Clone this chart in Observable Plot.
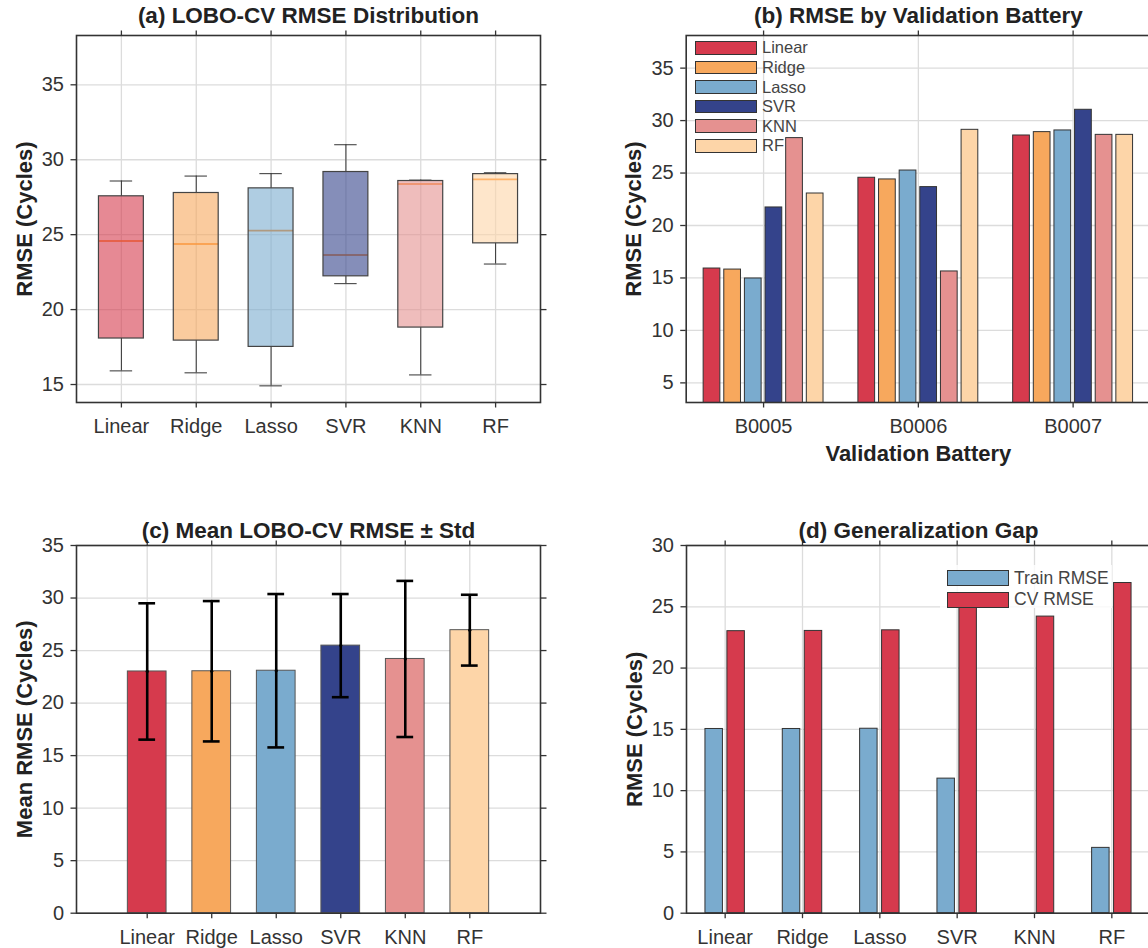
<!DOCTYPE html>
<html>
<head>
<meta charset="utf-8">
<script src="https://cdn.jsdelivr.net/npm/d3@7"></script>
<script src="https://cdn.jsdelivr.net/npm/@observablehq/plot@0.6"></script>
<style>
  html, body { margin: 0; padding: 0; background: #fff; }
  #fig { position: relative; width: 1148px; height: 948px; overflow: hidden; background: #fff;
         font-family: "Liberation Sans", Arial, Helvetica, sans-serif; }
  #fig svg { position: absolute; }
  .legend { position: absolute; }
  .legend .row { position: absolute; left: 0; display: flex; align-items: center; white-space: nowrap; }
  .legend .sw { box-sizing: border-box; border: 1.2px solid #333; }
  .legend .lab { color: #444; margin-left: 5px; }
</style>
</head>
<body>
<div id="fig"></div>
<script>
// ---- models and colours ----
const models = ["Linear", "Ridge", "Lasso", "SVR", "KNN", "RF"];
const modelColors = ["#d63a4d", "#f7a85d", "#7aabce", "#34438b", "#e59190", "#fdd5a8"];

// ---- (a) box summaries of LOBO-CV RMSE per model ----
const boxLow  = [15.91, 15.78, 14.91, 21.73, 15.64, 23.04];
const boxQ1   = [18.07, 17.93, 17.51, 22.22, 18.80, 24.42];
const boxMed  = [24.58, 24.38, 25.27, 23.64, 28.38, 28.69];
const boxQ3   = [27.56, 27.78, 28.09, 29.18, 28.58, 29.04];
const boxHigh = [28.58, 28.91, 29.07, 31.00, 28.64, 29.13];

// ---- (b) RMSE per validation battery ----
const batteries = ["B0005", "B0006", "B0007"];
const rmseB0005 = [15.90, 15.80, 14.95, 21.72, 28.33, 23.05];
const rmseB0006 = [24.55, 24.39, 25.24, 23.66, 15.62, 29.12];
const rmseB0007 = [28.58, 28.90, 29.06, 31.03, 28.64, 28.64];

// ---- (c) mean and std of LOBO-CV RMSE ----
const meanRmse = [23.01, 23.03, 23.08, 25.47, 24.20, 26.94];
const stdRmse  = [6.49, 6.68, 7.30, 4.91, 7.43, 3.37];

// ---- (d) train vs CV RMSE ----
const trainRmse = [15.03, 15.03, 15.05, 10.98, 0, 5.33];
const cvRmse = meanRmse;

// ---- shared styling ----
const FONT = "'Liberation Sans', Arial, Helvetica, sans-serif";
const INK = "#333";
const GRID = "#dcdcdc";

function decorations({xTicks, xFormat, yTicks, title, titleDy, ylabel}) {
  return [
    Plot.frame({stroke: INK, strokeWidth: 1.6}),
    Plot.axisX({anchor: "bottom", ticks: xTicks, tickFormat: xFormat, tickSize: 5.5, tickPadding: 11,
                label: null, color: INK, strokeWidth: 1.3}),
    Plot.axisX({anchor: "top", ticks: xTicks, tickFormat: () => "", tickSize: 5.5, label: null,
                color: INK, strokeWidth: 1.3}),
    Plot.axisY({anchor: "left", ticks: yTicks, tickSize: 5.5, tickPadding: 7, label: null,
                color: INK, strokeWidth: 1.3}),
    Plot.axisY({anchor: "right", ticks: yTicks, tickFormat: () => "", tickSize: 5.5, label: null,
                color: INK, strokeWidth: 1.3}),
    Plot.text([title], {frameAnchor: "top", dy: titleDy, lineAnchor: "bottom", fontSize: 22.5,
                        fontWeight: "bold", fill: "#222"}),
    Plot.text([ylabel], {frameAnchor: "left", dx: -52, rotate: -90, textAnchor: "middle",
                         lineAnchor: "middle", fontSize: 22, fontWeight: "bold", fill: "#222"})
  ];
}

function grids(xTicks, yTicks) {
  return [
    Plot.gridX({ticks: xTicks, stroke: GRID, strokeOpacity: 1, strokeWidth: 1.3}),
    Plot.gridY({ticks: yTicks, stroke: GRID, strokeOpacity: 1, strokeWidth: 1.3})
  ];
}

const baseStyle = {fontFamily: FONT, fontSize: "20px", color: INK, background: "white", overflow: "visible"};
const idx = models.map((_, i) => i);
const modelName = i => models[i];

// ---------- (a) box plot ----------
const boxHalf = 0.3, capHalf = 0.15;
const boxRows = models.map((m, i) => ({
  i, lo: boxLow[i], q1: boxQ1[i], med: boxMed[i], q3: boxQ3[i], hi: boxHigh[i], color: modelColors[i]
}));
const yTicksA = [15, 20, 25, 30, 35];
const plotA = Plot.plot({
  width: 574, height: 474,
  marginLeft: 76, marginRight: 34, marginTop: 35, marginBottom: 72,
  style: baseStyle,
  x: {domain: [-0.6, 5.6]},
  y: {domain: [13.8, 38.29]},
  color: {type: "identity"},
  marks: [
    ...grids(idx, yTicksA),
    Plot.ruleX(boxRows, {x: "i", y1: "lo", y2: "q1", stroke: INK, strokeWidth: 1}),
    Plot.ruleX(boxRows, {x: "i", y1: "q3", y2: "hi", stroke: INK, strokeWidth: 1}),
    Plot.ruleY(boxRows, {y: "lo", x1: d => d.i - capHalf, x2: d => d.i + capHalf, stroke: INK, strokeWidth: 1}),
    Plot.ruleY(boxRows, {y: "hi", x1: d => d.i - capHalf, x2: d => d.i + capHalf, stroke: INK, strokeWidth: 1}),
    // median sits beneath the translucent box fill
    Plot.ruleY(boxRows, {y: "med", x1: d => d.i - boxHalf, x2: d => d.i + boxHalf, stroke: "#ff7f0e", strokeWidth: 1.6}),
    Plot.rectY(boxRows, {x1: d => d.i - boxHalf, x2: d => d.i + boxHalf, y1: "q1", y2: "q3",
                         fill: "color", fillOpacity: 0.6, stroke: "#444", strokeWidth: 1.2}),
    ...decorations({xTicks: idx, xFormat: modelName, yTicks: yTicksA,
                    title: "(a) LOBO-CV RMSE Distribution", titleDy: -12.5, ylabel: "RMSE (Cycles)"})
  ]
});

// ---------- (b) grouped bars per battery ----------
const rmseByBattery = [rmseB0005, rmseB0006, rmseB0007];
const pitchB = 0.8 / models.length, barB = 0.108;
const barsB = [];
batteries.forEach((b, g) => models.forEach((m, i) => {
  const c = g + (i - (models.length - 1) / 2) * pitchB;
  barsB.push({x1: c - barB / 2, x2: c + barB / 2, v: rmseByBattery[g][i], color: modelColors[i]});
}));
const yTicksB = [5, 10, 15, 20, 25, 30, 35];
const bIdx = batteries.map((_, g) => g);
const plotB = Plot.plot({
  width: 584, height: 474,
  marginLeft: 85.7, marginRight: 34, marginTop: 35, marginBottom: 72,
  style: baseStyle,
  x: {domain: [-0.5, 2.5]},
  y: {domain: [3.13, 38.11]},
  color: {type: "identity"},
  marks: [
    ...grids(bIdx, yTicksB),
    Plot.rectY(barsB, {x1: "x1", x2: "x2", y1: 0, y2: "v", fill: "color", stroke: "#333",
                       strokeWidth: 1, clip: true}),
    Plot.text(["Validation Battery"], {frameAnchor: "bottom", dy: 51, lineAnchor: "middle",
                                       fontSize: 22, fontWeight: "bold", fill: "#222"}),
    ...decorations({xTicks: bIdx, xFormat: g => batteries[g], yTicks: yTicksB,
                    title: "(b) RMSE by Validation Battery", titleDy: -12.5, ylabel: "RMSE (Cycles)"})
  ]
});

// ---------- (c) mean ± std ----------
const rowsC = models.map((m, i) => ({i, mean: meanRmse[i], lo: meanRmse[i] - stdRmse[i],
                                      hi: meanRmse[i] + stdRmse[i], color: modelColors[i]}));
const yTicksC = [0, 5, 10, 15, 20, 25, 30, 35];
const plotC = Plot.plot({
  width: 574, height: 474,
  marginLeft: 76, marginRight: 34, marginTop: 71, marginBottom: 35.3,
  style: baseStyle,
  x: {domain: [-1.096, 6.096]},
  y: {domain: [0, 35]},
  color: {type: "identity"},
  marks: [
    ...grids(idx, yTicksC),
    Plot.rectY(rowsC, {x1: d => d.i - 0.3, x2: d => d.i + 0.3, y1: 0, y2: "mean", fill: "color",
                       stroke: "#555", strokeWidth: 1}),
    Plot.ruleX(rowsC, {x: "i", y1: "lo", y2: "hi", stroke: "#000", strokeWidth: 2.6}),
    Plot.ruleY(rowsC, {y: "lo", x1: d => d.i - 0.13, x2: d => d.i + 0.13, stroke: "#000", strokeWidth: 2.6}),
    Plot.ruleY(rowsC, {y: "hi", x1: d => d.i - 0.13, x2: d => d.i + 0.13, stroke: "#000", strokeWidth: 2.6}),
    Plot.dot(rowsC, {x: "i", y: "mean", r: 1.6, fill: "#000"}),
    ...decorations({xTicks: idx, xFormat: modelName, yTicks: yTicksC,
                    title: "(c) Mean LOBO-CV RMSE ± Std", titleDy: -8, ylabel: "Mean RMSE (Cycles)"})
  ]
});

// ---------- (d) train vs CV ----------
const offD = 0.142, barD = 0.226;
const trainColor = modelColors[2], cvColor = modelColors[0];
const barsD = [];
models.forEach((m, i) => {
  barsD.push({x1: i - offD - barD / 2, x2: i - offD + barD / 2, v: trainRmse[i], color: trainColor});
  barsD.push({x1: i + offD - barD / 2, x2: i + offD + barD / 2, v: cvRmse[i], color: cvColor});
});
const yTicksD = [0, 5, 10, 15, 20, 25, 30];
const plotD = Plot.plot({
  width: 584, height: 474,
  marginLeft: 86, marginRight: 34, marginTop: 71, marginBottom: 35.3,
  style: baseStyle,
  x: {domain: [-0.5, 5.5]},
  y: {domain: [0, 30]},
  color: {type: "identity"},
  marks: [
    ...grids(idx, yTicksD),
    Plot.rectY(barsD, {x1: "x1", x2: "x2", y1: 0, y2: "v", fill: "color", stroke: "#333", strokeWidth: 1}),
    ...decorations({xTicks: idx, xFormat: modelName, yTicks: yTicksD,
                    title: "(d) Generalization Gap", titleDy: -8, ylabel: "RMSE (Cycles)"})
  ]
});

// ---------- assemble ----------
const fig = document.getElementById("fig");
[[plotA, 0, 0], [plotB, 600, 0], [plotC, 0, 474], [plotD, 600, 474]].forEach(([svg, l, t]) => {
  svg.style.left = l + "px";
  svg.style.top = t + "px";
  svg.style.maxWidth = "none";
  fig.appendChild(svg);
});

function legend(items, {left, top, swW, swH, pitch, fontSize, bg}) {
  const box = document.createElement("div");
  box.className = "legend";
  box.style.left = left + "px";
  box.style.top = top + "px";
  if (bg) {
    const b = document.createElement("div");
    Object.assign(b.style, {position: "absolute", left: bg[0] + "px", top: bg[1] + "px",
      width: bg[2] + "px", height: bg[3] + "px", background: "rgba(255,255,255,0.8)"});
    box.appendChild(b);
  }
  items.forEach(([label, color], k) => {
    const row = document.createElement("div");
    row.className = "row";
    row.style.top = (k * pitch) + "px";
    row.style.height = swH + "px";
    const sw = document.createElement("div");
    sw.className = "sw";
    Object.assign(sw.style, {width: swW + "px", height: swH + "px", background: color});
    const lab = document.createElement("span");
    lab.className = "lab";
    lab.style.fontSize = fontSize + "px";
    lab.textContent = label;
    row.appendChild(sw);
    row.appendChild(lab);
    box.appendChild(row);
  });
  fig.appendChild(box);
}

legend(models.map((m, i) => [m, modelColors[i]]),
       {left: 695, top: 41, swW: 62, swH: 13.7, pitch: 19.6, fontSize: 16.5});
legend([["Train RMSE", trainColor], ["CV RMSE", cvColor]],
       {left: 947, top: 570, swW: 62, swH: 16, pitch: 21.7, fontSize: 17.5, bg: [-7, -5, 172, 43]});
</script>
</body>
</html>
